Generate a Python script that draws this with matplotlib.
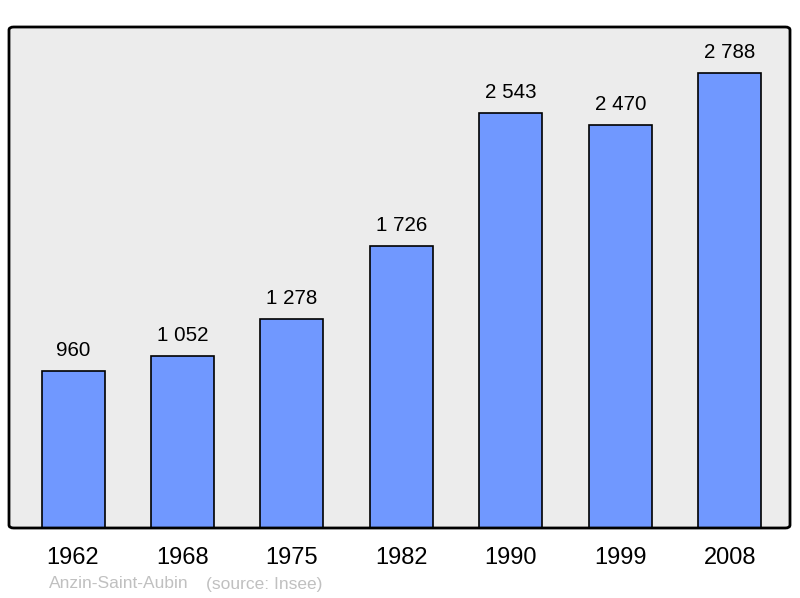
import matplotlib
matplotlib.use("Agg")
import matplotlib.pyplot as plt
from matplotlib.patches import FancyBboxPatch

years = ["1962", "1968", "1975", "1982", "1990", "1999", "2008"]
population = [960, 1052, 1278, 1726, 2543, 2470, 2788]
value_labels = ["960", "1 052", "1 278", "1 726", "2 543", "2 470", "2 788"]
town = "Anzin-Saint-Aubin"
source = "(source: Insee)"

plt.rcParams['font.family'] = ['Liberation Sans', 'DejaVu Sans']

W, H = 800, 598
fig = plt.figure(figsize=(W / 100, H / 100), dpi=100)
left, right, top, bottom = 9, 790, 27, 528
ax = fig.add_axes([left / W, 1 - bottom / H, (right - left) / W, (bottom - top) / H])
ax.set_facecolor('#ececec')
for s in ax.spines.values():
    s.set_visible(False)

x = list(range(len(years)))
ax.bar(x, population, width=0.575, color='#7098ff', edgecolor='black', linewidth=1.2, zorder=2)
for xi, v, lab in zip(x, population, value_labels):
    ax.text(xi, v + 68, lab, ha='center', va='bottom', fontsize=14.8, color='black')

ax.set_xlim(-0.585, 6.55)
ax.set_ylim(0, 3070)
ax.set_yticks([])
ax.set_xticks(x)
ax.set_xticklabels(years, fontsize=17)
ax.tick_params(axis='x', length=0, pad=14)

frame = FancyBboxPatch((0, 0), 1, 1, boxstyle="round,pad=0,rounding_size=0.006",
                       transform=ax.transAxes, facecolor='none', edgecolor='black',
                       linewidth=2, zorder=5, clip_on=False)
ax.add_patch(frame)

fig.text(49 / W, 1 - 584 / H, town, fontsize=12.5, color='#c0c0c0', va='center', ha='left')
fig.text(206 / W, 1 - 584 / H, source, fontsize=12.5, color='#c0c0c0', va='center', ha='left')

fig.savefig("out.png", dpi=100)
